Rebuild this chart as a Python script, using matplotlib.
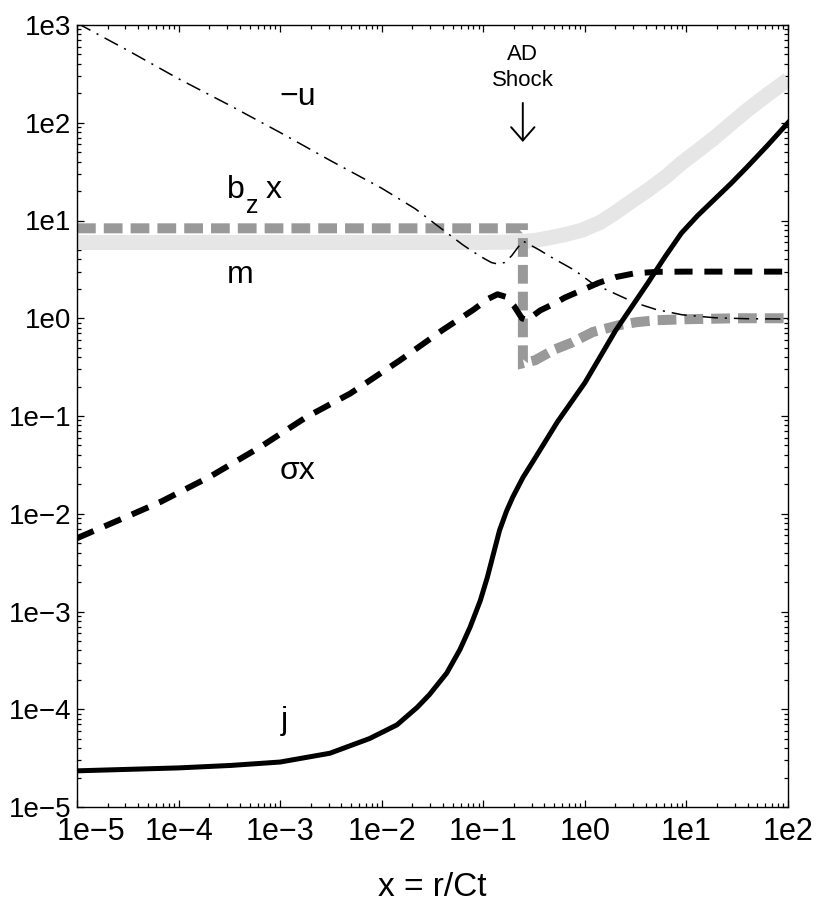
import numpy as np
import matplotlib
matplotlib.use("Agg")
import matplotlib.pyplot as plt
from matplotlib.ticker import LogLocator, FuncFormatter, NullFormatter

plt.rcParams['font.family'] = ['Liberation Sans', 'DejaVu Sans']
plt.rcParams['lines.scale_dashes'] = False

# values, stored as log10(x), log10(y)
u_lx = [-5.0, -4.5, -4.0, -3.5, -3.0, -2.5, -2.0, -1.67, -1.43, -1.2, -1.1, -0.99,
        -0.92, -0.86, -0.79, -0.72, -0.67, -0.61, -0.45, -0.34, -0.1, 0.07, 0.3, 0.49,
        0.7, 0.96, 1.28, 1.6, 2.0]
u_ly = [3.02, 2.74, 2.45, 2.18, 1.90, 1.61, 1.33, 1.12, 0.93, 0.75, 0.68, 0.61,
        0.57, 0.555, 0.57, 0.64, 0.71, 0.79, 0.70, 0.63, 0.49, 0.36, 0.25, 0.16,
        0.09, 0.035, 0.005, -0.005, -0.008]

m_lx = [-5.0, -2.0, -1.0, -0.69, -0.5, -0.36, -0.2, -0.03, 0.15, 0.30, 0.45, 0.62,
        0.8, 0.955, 1.12, 1.28, 1.45, 1.60, 1.8, 2.0]
m_ly = [0.775, 0.775, 0.775, 0.78, 0.795, 0.82, 0.855, 0.90, 0.98, 1.08, 1.19, 1.31,
        1.45, 1.59, 1.72, 1.85, 2.0, 2.13, 2.29, 2.44]

bz_lx = [-5.0, -0.61, -0.61, -0.49, -0.30, -0.13, 0.08, 0.34, 0.51, 0.71, 1.0, 1.5, 2.0]
bz_ly = [0.92, 0.92, -0.46, -0.43, -0.32, -0.25, -0.14, -0.07, -0.04, -0.02, -0.01, 0.0, 0.0]

sx_lx = [-5.0, -4.51, -4.18, -3.69, -3.2, -2.74, -2.31, -1.82, -1.40, -1.10, -0.95,
         -0.86, -0.78, -0.70, -0.62, -0.57, -0.44, -0.3, -0.2, 0.0, 0.13, 0.3, 0.49,
         0.72, 1.0, 2.0]
sx_ly = [-2.25, -2.03, -1.88, -1.62, -1.32, -1.01, -0.77, -0.43, -0.12, 0.085, 0.20,
         0.245, 0.22, 0.13, 0.0, -0.02, 0.08, 0.15, 0.21, 0.30, 0.36, 0.42, 0.46,
         0.475, 0.477, 0.477]

j_lx = [-5.0, -4.0, -3.49, -3.0, -2.51, -2.12, -1.85, -1.65, -1.53, -1.36, -1.23, -1.13,
        -1.03, -0.96, -0.9, -0.84, -0.77, -0.71, -0.61, -0.49, -0.27, 0.0, 0.17, 0.30,
        0.46, 0.62, 0.79, 0.95, 1.11, 1.28, 1.44, 1.6, 1.8, 2.0]
j_ly = [-4.63, -4.60, -4.575, -4.54, -4.45, -4.30, -4.16, -3.98, -3.85, -3.63, -3.39, -3.16,
        -2.89, -2.65, -2.41, -2.17, -1.97, -1.83, -1.63, -1.43, -1.06, -0.66, -0.36, -0.13,
        0.115, 0.36, 0.63, 0.87, 1.05, 1.22, 1.38, 1.55, 1.77, 2.0]

x_min_exp = -5


def p10(a):
    return np.power(10.0, np.array(a))


def dec_text(e):
    return ('1e%d' % e).replace('-', '\u2212')


fig = plt.figure(figsize=(8.3, 9.15), dpi=100)
ax = fig.add_axes([77 / 830, 108 / 915, 711 / 830, 782 / 915])

ax.plot(p10(m_lx), p10(m_ly), color='#e6e6e6', lw=10.8, solid_capstyle='butt')
ax.plot(p10(bz_lx), p10(bz_ly), color='#999999', lw=7.2, dashes=(13.5, 5.8),
        dash_capstyle='butt', dash_joinstyle='miter')
ax.plot(p10(sx_lx), p10(sx_ly), color='black', lw=4.3, dashes=(13, 8.5),
        dash_capstyle='butt')
ax.plot(p10(u_lx), p10(u_ly), color='black', lw=1.1, dashes=(11, 5, 1.5, 5))
ax.plot(p10(j_lx), p10(j_ly), color='black', lw=3.6)

ax.set_xscale('log')
ax.set_yscale('log')
ax.set_xlim(10.0 ** x_min_exp, 1e2)
ax.set_ylim(1e-5, 1e3)


def x_label(v, pos):
    e = int(round(np.log10(v)))
    # the leftmost one is drawn separately, nudged right like the original
    return '' if e == x_min_exp else dec_text(e)


def y_label(v, pos):
    return dec_text(int(round(np.log10(v))))


for axis, f in ((ax.xaxis, x_label), (ax.yaxis, y_label)):
    axis.set_major_locator(LogLocator(base=10, numticks=20))
    axis.set_minor_locator(LogLocator(base=10, subs=np.arange(2, 10), numticks=20))
    axis.set_major_formatter(FuncFormatter(f))
    axis.set_minor_formatter(NullFormatter())

ax.tick_params(which='both', direction='in', top=True, right=True, width=0.9)
ax.tick_params(which='major', length=5)
ax.tick_params(which='minor', length=3)
ax.tick_params(axis='x', labelsize=22, pad=7)
ax.tick_params(axis='y', labelsize=20, pad=4)
for s in ax.spines.values():
    s.set_linewidth(1.0)

ax.annotate(dec_text(x_min_exp), xy=(10.0 ** x_min_exp, 0), xycoords=('data', 'axes fraction'),
            xytext=(10, -7), textcoords='offset points', fontsize=22,
            ha='center', va='top')

ax.set_xlabel('x = r/Ct', fontsize=24, labelpad=18)

tr = ax.transAxes
ax.text(0.311, 0.908, '\u2212u', transform=tr, fontsize=23, ha='center', va='center')
ax.text(0.223, 0.779, 'b', transform=tr, fontsize=23, ha='center', va='baseline')
ax.text(0.246, 0.760, 'z', transform=tr, fontsize=18, ha='center', va='baseline')
ax.text(0.276, 0.779, 'x', transform=tr, fontsize=23, ha='center', va='baseline')
ax.text(0.229, 0.670, 'm', transform=tr, fontsize=23, ha='center', va='baseline')
ax.text(0.310, 0.419, '\u03c3x', transform=tr, fontsize=23, ha='center', va='baseline')
ax.text(0.291, 0.0997, 'j', transform=tr, fontsize=23, ha='center', va='baseline')

ax.text(0.627, 0.946, 'AD\nShock', transform=tr, fontsize=16, ha='center', va='center',
        linespacing=1.3)
ax.annotate('', xy=(0.627, 0.8504), xytext=(0.627, 0.9003), xycoords=tr, textcoords=tr,
            arrowprops=dict(arrowstyle='->,head_length=0.4,head_width=0.35', lw=1.4,
                            mutation_scale=24, shrinkA=0, shrinkB=0))

fig.savefig('out.png', dpi=100)
